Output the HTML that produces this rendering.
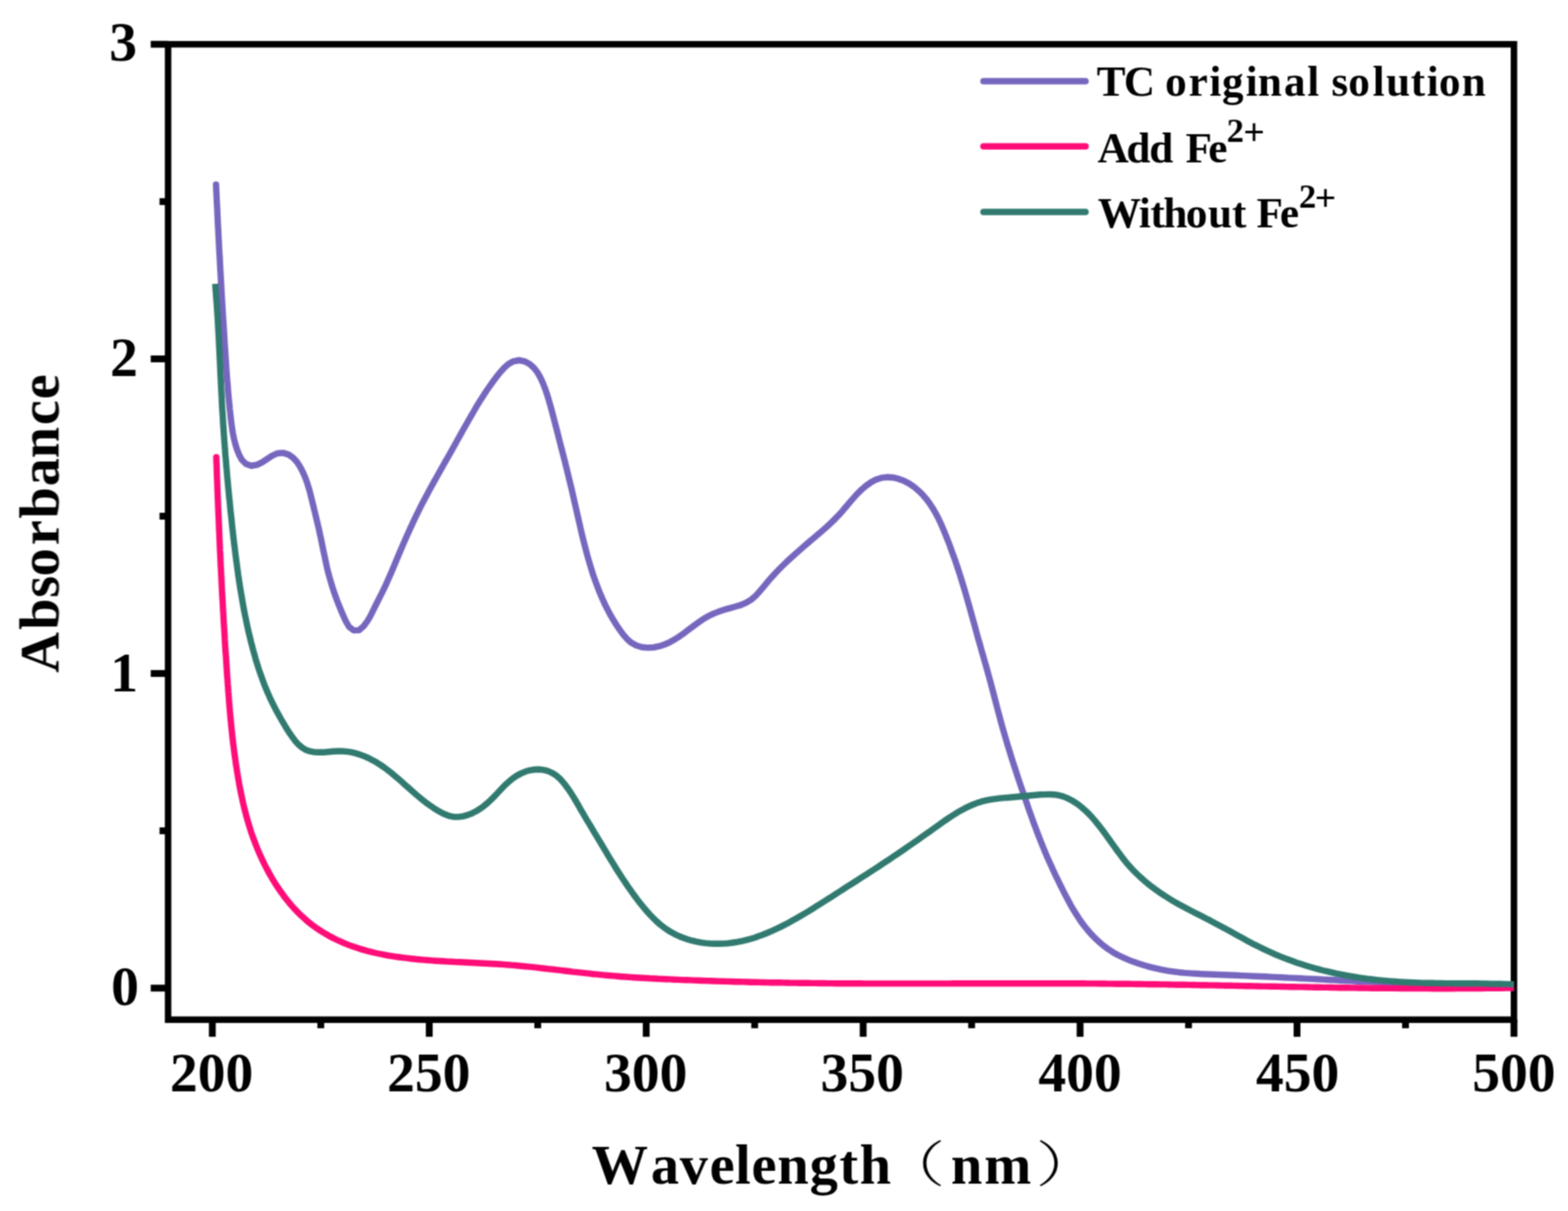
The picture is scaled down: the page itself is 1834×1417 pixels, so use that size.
<!DOCTYPE html>
<html lang="en">
<head>
<meta charset="utf-8">
<title>UV-Vis absorbance spectra</title>
<style>
html,body{margin:0;padding:0;background:#fff;}
body{width:1834px;height:1417px;overflow:hidden;}
svg{display:block;position:absolute;left:0;top:0;}
text{font-family:"Liberation Serif","Noto Serif CJK SC",serif;font-weight:bold;fill:#000;font-kerning:none;}
.tick{font-size:65px;}
.title{font-size:66px;}
.leg{font-size:50.5px;}
.sup{font-size:38.5px;}
.cjk{font-family:"Noto Serif CJK SC","Liberation Serif",serif;font-weight:200;font-size:58px;}
.axis{stroke:#000;stroke-width:7.6;fill:none;}
.curve{fill:none;stroke-width:7.4;stroke-linejoin:round;}
</style>
</head>
<body>
<svg xmlns="http://www.w3.org/2000/svg" width="1834" height="1417" viewBox="0 0 1834 1417">
<rect x="0" y="0" width="1834" height="1417" fill="#ffffff"/>
<defs><filter id="soft" filterUnits="userSpaceOnUse" x="0" y="0" width="1834" height="1417" color-interpolation-filters="sRGB"><feConvolveMatrix order="3" kernelMatrix="1 2 1 2 4 2 1 2 1" divisor="16" edgeMode="duplicate" preserveAlpha="false"/></filter></defs>
<g id="figure" filter="url(#soft)">
<rect class="axis" x="196.6" y="51.8" width="1574.20" height="1141.35"/>
<g class="axis">
<line x1="248.35" y1="1193.15" x2="248.35" y2="1213.15" stroke-width="8.0"/>
<line x1="375.22" y1="1193.15" x2="375.22" y2="1203.15" stroke-width="8.0"/>
<line x1="502.09" y1="1193.15" x2="502.09" y2="1213.15" stroke-width="8.0"/>
<line x1="628.96" y1="1193.15" x2="628.96" y2="1203.15" stroke-width="8.0"/>
<line x1="755.83" y1="1193.15" x2="755.83" y2="1213.15" stroke-width="8.0"/>
<line x1="882.70" y1="1193.15" x2="882.70" y2="1203.15" stroke-width="8.0"/>
<line x1="1009.58" y1="1193.15" x2="1009.58" y2="1213.15" stroke-width="8.0"/>
<line x1="1136.45" y1="1193.15" x2="1136.45" y2="1203.15" stroke-width="8.0"/>
<line x1="1263.32" y1="1193.15" x2="1263.32" y2="1213.15" stroke-width="8.0"/>
<line x1="1390.19" y1="1193.15" x2="1390.19" y2="1203.15" stroke-width="8.0"/>
<line x1="1517.06" y1="1193.15" x2="1517.06" y2="1213.15" stroke-width="8.0"/>
<line x1="1643.93" y1="1193.15" x2="1643.93" y2="1203.15" stroke-width="8.0"/>
<line x1="1770.80" y1="1193.15" x2="1770.80" y2="1213.15" stroke-width="8.0"/>
<line x1="196.6" y1="1156.20" x2="176.30" y2="1156.20" stroke-width="8.0"/>
<line x1="196.6" y1="972.13" x2="186.60" y2="972.13" stroke-width="8.0"/>
<line x1="196.6" y1="788.07" x2="176.30" y2="788.07" stroke-width="8.0"/>
<line x1="196.6" y1="604.00" x2="186.60" y2="604.00" stroke-width="8.0"/>
<line x1="196.6" y1="419.93" x2="176.30" y2="419.93" stroke-width="8.0"/>
<line x1="196.6" y1="235.87" x2="186.60" y2="235.87" stroke-width="8.0"/>
<line x1="196.6" y1="51.80" x2="176.30" y2="51.80" stroke-width="8.0"/>
</g>
<defs><clipPath id="plotclip"><rect x="196.6" y="51.8" width="1574.20" height="1141.35"/></clipPath></defs>
<g id="curves" clip-path="url(#plotclip)">
<path class="curve" stroke="#7766BE" stroke-linecap="round" d="M252.7,216.0 L253.0,222.8 L253.3,229.5 L253.6,236.3 L254.0,243.0 L254.3,249.8 L254.6,256.5 L254.9,263.3 L255.3,270.0 L255.6,276.8 L256.0,283.5 L256.3,290.3 L256.7,297.0 L257.1,303.8 L257.4,310.5 L257.8,317.3 L258.2,324.0 L258.6,330.8 L258.9,337.5 L259.3,344.3 L259.7,351.0 L260.1,357.8 L260.5,364.5 L260.9,371.3 L261.4,378.0 L261.8,384.8 L262.2,391.5 L262.6,398.3 L263.0,405.0 L263.5,411.8 L263.9,418.5 L264.4,425.2 L264.8,432.0 L265.3,438.7 L265.8,445.5 L266.4,452.2 L266.9,458.9 L267.5,465.7 L268.2,472.4 L268.8,479.1 L269.6,485.9 L270.3,492.6 L271.2,499.3 L272.2,505.9 L273.5,512.6 L275.1,519.1 L277.1,525.6 L279.6,532.0 L282.8,538.0 L287.5,542.7 L293.9,545.0 L300.6,543.9 L306.8,540.9 L312.4,537.2 L318.1,533.4 L324.3,530.5 L331.0,529.9 L337.5,531.9 L343.0,535.7 L347.5,540.8 L351.2,546.5 L354.3,552.6 L357.0,558.8 L359.3,565.1 L361.3,571.6 L363.1,578.1 L364.7,584.6 L366.3,591.2 L367.9,597.8 L369.5,604.3 L371.0,610.9 L372.6,617.5 L374.0,624.1 L375.5,630.7 L376.8,637.3 L378.2,643.9 L379.6,650.6 L381.0,657.2 L382.4,663.8 L384.0,670.3 L385.8,676.9 L387.7,683.4 L389.7,689.8 L391.9,696.2 L394.2,702.6 L396.7,708.9 L399.2,715.0 L401.9,721.2 L404.8,727.5 L408.3,733.5 L413.7,737.6 L419.9,737.4 L425.1,733.0 L429.3,727.4 L432.8,721.6 L435.8,715.6 L438.8,709.5 L441.8,703.5 L444.9,697.4 L447.9,691.4 L450.8,685.3 L453.6,679.1 L456.3,672.9 L459.0,666.7 L461.6,660.5 L464.2,654.3 L466.8,648.0 L469.5,641.8 L472.1,635.6 L474.8,629.4 L477.6,623.2 L480.4,617.1 L483.2,610.9 L486.1,604.8 L489.1,598.8 L492.1,592.7 L495.2,586.7 L498.4,580.7 L501.6,574.8 L504.8,568.8 L508.1,562.9 L511.4,557.0 L514.7,551.1 L518.0,545.2 L521.3,539.4 L524.7,533.5 L528.0,527.6 L531.3,521.7 L534.6,515.8 L537.9,509.9 L541.1,504.0 L544.5,498.1 L547.8,492.2 L551.2,486.3 L554.6,480.5 L558.0,474.7 L561.5,468.9 L565.2,463.2 L568.9,457.5 L572.7,452.0 L576.6,446.5 L580.7,441.1 L584.9,435.8 L589.4,430.7 L594.3,426.2 L600.4,422.8 L607.1,421.5 L613.6,422.8 L619.5,426.0 L624.6,430.6 L628.8,436.0 L632.1,441.9 L634.9,448.0 L637.4,454.3 L639.6,460.7 L641.6,467.2 L643.5,473.7 L645.3,480.2 L647.0,486.7 L648.7,493.3 L650.4,499.8 L652.1,506.3 L653.7,512.9 L655.4,519.4 L657.1,526.0 L658.8,532.5 L660.5,539.1 L662.1,545.6 L663.7,552.2 L665.3,558.8 L666.9,565.3 L668.5,571.9 L670.0,578.5 L671.5,585.1 L673.0,591.7 L674.5,598.3 L676.0,604.9 L677.5,611.5 L679.0,618.0 L680.5,624.6 L682.1,631.2 L683.8,637.7 L685.5,644.3 L687.2,650.8 L689.1,657.3 L691.0,663.8 L693.0,670.2 L695.2,676.7 L697.5,683.0 L699.9,689.4 L702.4,695.6 L705.1,701.8 L707.9,707.9 L711.0,714.0 L714.2,719.9 L717.6,725.8 L721.2,731.5 L725.0,737.1 L729.0,742.6 L733.4,747.7 L738.4,752.1 L744.2,755.3 L750.7,757.2 L757.6,757.9 L764.6,757.5 L771.2,756.2 L777.6,754.0 L783.7,751.3 L789.5,748.0 L795.2,744.3 L800.7,740.4 L806.1,736.3 L811.5,732.2 L817.0,728.2 L822.6,724.4 L828.4,721.0 L834.4,718.1 L840.8,715.6 L847.2,713.4 L853.7,711.6 L860.2,709.8 L866.7,707.9 L872.9,705.2 L878.7,701.6 L883.8,697.2 L888.4,692.2 L892.7,687.1 L897.0,681.9 L901.4,676.7 L905.9,671.7 L910.6,666.8 L915.4,662.0 L920.2,657.3 L925.2,652.7 L930.2,648.2 L935.3,643.7 L940.4,639.3 L945.5,634.9 L950.7,630.5 L955.8,626.2 L961.0,621.7 L966.1,617.3 L971.1,612.7 L975.9,608.0 L980.6,603.2 L985.1,598.2 L989.5,593.0 L993.8,587.9 L998.2,582.8 L1002.7,577.8 L1007.6,573.0 L1012.7,568.6 L1018.4,564.6 L1024.4,561.3 L1030.7,559.2 L1037.3,558.3 L1044.0,558.7 L1050.6,560.2 L1057.0,562.5 L1063.0,565.6 L1068.6,569.3 L1073.8,573.7 L1078.7,578.4 L1083.2,583.6 L1087.3,589.0 L1091.0,594.7 L1094.4,600.5 L1097.5,606.4 L1100.4,612.5 L1103.1,618.7 L1105.6,624.9 L1108.1,631.2 L1110.6,637.5 L1112.9,643.9 L1115.2,650.2 L1117.5,656.6 L1119.6,663.0 L1121.8,669.5 L1123.8,675.9 L1125.8,682.4 L1127.8,688.8 L1129.7,695.3 L1131.5,701.8 L1133.4,708.3 L1135.2,714.8 L1137.0,721.3 L1138.8,727.8 L1140.6,734.3 L1142.4,740.9 L1144.2,747.4 L1146.1,753.9 L1147.9,760.4 L1149.8,766.9 L1151.6,773.4 L1153.5,779.9 L1155.3,786.4 L1157.1,792.9 L1158.9,799.4 L1160.6,806.0 L1162.3,812.5 L1164.0,819.0 L1165.7,825.6 L1167.4,832.1 L1169.2,838.7 L1170.9,845.2 L1172.7,851.7 L1174.6,858.2 L1176.5,864.7 L1178.4,871.2 L1180.4,877.6 L1182.4,884.1 L1184.4,890.5 L1186.5,897.0 L1188.6,903.4 L1190.7,909.8 L1192.8,916.2 L1195.0,922.6 L1197.2,929.0 L1199.4,935.4 L1201.6,941.8 L1203.8,948.2 L1206.1,954.6 L1208.3,960.9 L1210.7,967.3 L1213.1,973.6 L1215.5,979.9 L1218.0,986.2 L1220.5,992.4 L1223.1,998.7 L1225.8,1004.9 L1228.6,1011.1 L1231.4,1017.2 L1234.2,1023.3 L1237.2,1029.4 L1240.1,1035.5 L1243.2,1041.6 L1246.2,1047.6 L1249.4,1053.5 L1252.6,1059.5 L1256.0,1065.3 L1259.6,1071.0 L1263.3,1076.7 L1267.3,1082.2 L1271.5,1087.5 L1275.9,1092.6 L1280.6,1097.5 L1285.5,1102.2 L1290.7,1106.5 L1296.1,1110.5 L1301.7,1114.2 L1307.6,1117.5 L1313.7,1120.4 L1319.9,1123.1 L1326.2,1125.6 L1332.6,1127.8 L1339.1,1129.8 L1345.6,1131.6 L1352.2,1133.2 L1358.8,1134.6 L1365.5,1135.8 L1372.1,1136.8 L1378.8,1137.7 L1385.5,1138.4 L1392.3,1138.9 L1399.0,1139.3 L1405.8,1139.7 L1412.5,1140.0 L1419.3,1140.2 L1426.0,1140.5 L1432.8,1140.7 L1439.6,1141.0 L1446.3,1141.3 L1453.1,1141.6 L1459.8,1141.9 L1466.6,1142.2 L1473.3,1142.5 L1480.1,1142.8 L1486.8,1143.1 L1493.6,1143.4 L1500.3,1143.8 L1507.1,1144.1 L1513.8,1144.4 L1520.6,1144.8 L1527.3,1145.1 L1534.1,1145.4 L1540.8,1145.8 L1547.6,1146.1 L1554.3,1146.5 L1561.1,1146.8 L1567.8,1147.2 L1574.6,1147.5 L1581.3,1147.8 L1588.1,1148.2 L1594.8,1148.5 L1601.6,1148.8 L1608.3,1149.1 L1615.1,1149.4 L1621.9,1149.7 L1628.6,1150.0 L1635.4,1150.3 L1642.1,1150.6 L1648.9,1150.8 L1655.6,1151.1 L1662.4,1151.3 L1669.1,1151.5 L1675.9,1151.7 L1682.7,1151.9 L1689.4,1152.0 L1696.2,1152.2 L1702.9,1152.3 L1709.7,1152.3 L1716.4,1152.4 L1723.2,1152.4 L1730.0,1152.4 L1736.7,1152.4 L1743.5,1152.3 L1750.2,1152.2 L1757.0,1152.1 L1763.8,1151.9 L1770.5,1151.7"/>
<path class="curve" stroke="#FF0C78" stroke-linecap="round" d="M253.0,534.9 L253.1,539.6 L253.3,544.4 L253.5,549.1 L253.6,553.9 L253.8,558.6 L254.0,563.4 L254.2,568.1 L254.3,572.8 L254.5,577.6 L254.7,582.3 L254.9,587.1 L255.1,591.8 L255.3,596.6 L255.5,601.3 L255.7,606.0 L255.9,610.8 L256.1,615.5 L256.3,620.3 L256.5,625.0 L256.7,629.7 L256.9,634.5 L257.1,639.2 L257.3,644.0 L257.6,648.7 L257.8,653.4 L258.0,658.2 L258.2,662.9 L258.5,667.7 L258.7,672.4 L259.0,677.1 L259.2,681.9 L259.4,686.6 L259.7,691.3 L259.9,696.1 L260.2,700.8 L260.5,705.6 L260.7,710.3 L261.0,715.0 L261.3,719.8 L261.5,724.5 L261.8,729.2 L262.1,734.0 L262.4,738.7 L262.7,743.4 L262.9,748.2 L263.2,752.9 L263.5,757.7 L263.8,762.4 L264.2,767.1 L264.5,771.9 L264.8,776.6 L265.1,781.3 L265.4,786.1 L265.7,790.8 L266.1,795.5 L266.4,800.3 L266.8,805.0 L267.1,809.8 L267.5,814.5 L267.8,819.2 L268.2,824.0 L268.6,828.7 L269.0,833.4 L269.4,838.1 L269.9,842.9 L270.3,847.6 L270.8,852.3 L271.3,857.0 L271.8,861.8 L272.3,866.5 L272.9,871.2 L273.5,875.9 L274.1,880.6 L274.7,885.3 L275.4,890.0 L276.0,894.7 L276.8,899.4 L277.5,904.1 L278.3,908.7 L279.1,913.4 L279.9,918.1 L280.8,922.7 L281.7,927.4 L282.7,932.0 L283.7,936.7 L284.7,941.3 L285.8,945.9 L287.0,950.5 L288.2,955.1 L289.5,959.6 L290.8,964.2 L292.2,968.7 L293.6,973.2 L295.2,977.7 L296.8,982.2 L298.5,986.6 L300.2,991.0 L302.0,995.4 L303.9,999.8 L305.9,1004.1 L307.9,1008.4 L310.0,1012.6 L312.2,1016.9 L314.5,1021.1 L316.8,1025.2 L319.2,1029.3 L321.7,1033.4 L324.3,1037.4 L327.0,1041.3 L329.7,1045.2 L332.5,1049.1 L335.4,1052.8 L338.4,1056.5 L341.5,1060.1 L344.7,1063.7 L348.0,1067.1 L351.3,1070.4 L354.8,1073.6 L358.3,1076.8 L361.9,1079.8 L365.7,1082.7 L369.5,1085.4 L373.4,1088.1 L377.3,1090.6 L381.4,1093.1 L385.5,1095.4 L389.7,1097.6 L394.0,1099.7 L398.3,1101.7 L402.6,1103.6 L407.0,1105.4 L411.5,1107.1 L415.9,1108.6 L420.5,1110.1 L425.0,1111.4 L429.6,1112.7 L434.2,1113.9 L438.8,1115.0 L443.5,1116.0 L448.1,1116.9 L452.8,1117.8 L457.5,1118.6 L462.2,1119.3 L466.9,1120.0 L471.6,1120.6 L476.4,1121.2 L481.1,1121.7 L485.8,1122.2 L490.5,1122.7 L495.2,1123.1 L500.0,1123.5 L504.7,1123.9 L509.4,1124.2 L514.2,1124.5 L518.9,1124.8 L523.6,1125.1 L528.4,1125.3 L533.1,1125.6 L537.8,1125.8 L542.6,1126.0 L547.3,1126.3 L552.0,1126.5 L556.8,1126.7 L561.5,1127.0 L566.2,1127.2 L571.0,1127.5 L575.7,1127.7 L580.5,1128.0 L585.2,1128.3 L589.9,1128.6 L594.7,1129.0 L599.4,1129.4 L604.1,1129.8 L608.8,1130.2 L613.6,1130.7 L618.3,1131.1 L623.0,1131.6 L627.7,1132.2 L632.4,1132.7 L637.1,1133.2 L641.9,1133.8 L646.6,1134.3 L651.3,1134.9 L656.0,1135.4 L660.7,1136.0 L665.4,1136.5 L670.1,1137.1 L674.9,1137.6 L679.6,1138.1 L684.3,1138.6 L689.0,1139.2 L693.7,1139.7 L698.5,1140.1 L703.2,1140.6 L707.9,1141.1 L712.6,1141.5 L717.3,1141.9 L722.1,1142.3 L726.8,1142.7 L731.5,1143.0 L736.3,1143.4 L741.0,1143.7 L745.7,1144.0 L750.5,1144.3 L755.2,1144.5 L759.9,1144.8 L764.7,1145.0 L769.4,1145.3 L774.2,1145.5 L778.9,1145.7 L783.6,1145.9 L788.4,1146.2 L793.1,1146.4 L797.9,1146.6 L802.6,1146.8 L807.4,1146.9 L812.1,1147.1 L816.8,1147.3 L821.6,1147.5 L826.3,1147.6 L831.1,1147.8 L835.8,1148.0 L840.5,1148.1 L845.3,1148.3 L850.0,1148.4 L854.8,1148.5 L859.5,1148.7 L864.3,1148.8 L869.0,1148.9 L873.8,1149.0 L878.5,1149.2 L883.2,1149.3 L888.0,1149.4 L892.7,1149.5 L897.5,1149.6 L902.2,1149.7 L907.0,1149.8 L911.7,1149.8 L916.4,1149.9 L921.2,1150.0 L925.9,1150.1 L930.7,1150.1 L935.4,1150.2 L940.2,1150.3 L944.9,1150.3 L949.7,1150.4 L954.4,1150.4 L959.1,1150.5 L963.9,1150.5 L968.6,1150.6 L973.4,1150.6 L978.1,1150.7 L982.9,1150.7 L987.6,1150.7 L992.4,1150.8 L997.1,1150.8 L1001.9,1150.8 L1006.6,1150.8 L1011.3,1150.9 L1016.1,1150.9 L1020.8,1150.9 L1025.6,1150.9 L1030.3,1150.9 L1035.1,1150.9 L1039.8,1150.9 L1044.6,1150.9 L1049.3,1150.9 L1054.1,1150.9 L1058.8,1150.9 L1063.5,1150.9 L1068.3,1150.9 L1073.0,1150.9 L1077.8,1150.9 L1082.5,1150.9 L1087.3,1150.9 L1092.0,1150.9 L1096.8,1150.9 L1101.5,1150.9 L1106.2,1150.9 L1111.0,1150.9 L1115.7,1150.8 L1120.5,1150.8 L1125.2,1150.8 L1130.0,1150.8 L1134.7,1150.8 L1139.5,1150.8 L1144.2,1150.8 L1149.0,1150.8 L1153.7,1150.8 L1158.4,1150.7 L1163.2,1150.7 L1167.9,1150.7 L1172.7,1150.7 L1177.4,1150.7 L1182.2,1150.7 L1186.9,1150.7 L1191.7,1150.7 L1196.4,1150.7 L1201.2,1150.7 L1205.9,1150.7 L1210.6,1150.7 L1215.4,1150.7 L1220.1,1150.7 L1224.9,1150.7 L1229.6,1150.7 L1234.4,1150.7 L1239.1,1150.7 L1243.9,1150.7 L1248.6,1150.8 L1253.3,1150.8 L1258.1,1150.8 L1262.8,1150.8 L1267.6,1150.8 L1272.3,1150.9 L1277.1,1150.9 L1281.8,1150.9 L1286.6,1151.0 L1291.3,1151.0 L1296.1,1151.1 L1300.8,1151.1 L1305.5,1151.2 L1310.3,1151.2 L1315.0,1151.3 L1319.8,1151.3 L1324.5,1151.4 L1329.3,1151.5 L1334.0,1151.5 L1338.8,1151.6 L1343.5,1151.7 L1348.2,1151.7 L1353.0,1151.8 L1357.7,1151.9 L1362.5,1151.9 L1367.2,1152.0 L1372.0,1152.1 L1376.7,1152.2 L1381.5,1152.3 L1386.2,1152.3 L1390.9,1152.4 L1395.7,1152.5 L1400.4,1152.6 L1405.2,1152.7 L1409.9,1152.8 L1414.7,1152.9 L1419.4,1152.9 L1424.2,1153.0 L1428.9,1153.1 L1433.6,1153.2 L1438.4,1153.3 L1443.1,1153.4 L1447.9,1153.5 L1452.6,1153.6 L1457.4,1153.7 L1462.1,1153.8 L1466.9,1153.9 L1471.6,1154.0 L1476.3,1154.1 L1481.1,1154.1 L1485.8,1154.2 L1490.6,1154.3 L1495.3,1154.4 L1500.1,1154.5 L1504.8,1154.6 L1509.6,1154.7 L1514.3,1154.8 L1519.0,1154.9 L1523.8,1154.9 L1528.5,1155.0 L1533.3,1155.1 L1538.0,1155.2 L1542.8,1155.3 L1547.5,1155.4 L1552.3,1155.4 L1557.0,1155.5 L1561.7,1155.6 L1566.5,1155.7 L1571.2,1155.7 L1576.0,1155.8 L1580.7,1155.9 L1585.5,1155.9 L1590.2,1156.0 L1595.0,1156.0 L1599.7,1156.1 L1604.4,1156.2 L1609.2,1156.2 L1613.9,1156.3 L1618.7,1156.3 L1623.4,1156.4 L1628.2,1156.4 L1632.9,1156.4 L1637.7,1156.5 L1642.4,1156.5 L1647.1,1156.5 L1651.9,1156.6 L1656.6,1156.6 L1661.4,1156.6 L1666.1,1156.6 L1670.9,1156.6 L1675.6,1156.7 L1680.4,1156.7 L1685.1,1156.7 L1689.8,1156.7 L1694.6,1156.7 L1699.3,1156.7 L1704.1,1156.6 L1708.8,1156.6 L1713.6,1156.6 L1718.3,1156.6 L1723.1,1156.5 L1727.8,1156.5 L1732.6,1156.5 L1737.3,1156.4 L1742.0,1156.4 L1746.8,1156.3 L1751.5,1156.3 L1756.3,1156.2 L1761.0,1156.1 L1765.8,1156.1 L1770.5,1156.0"/>
<path class="curve" stroke="#317A70" stroke-linecap="butt" d="M251.7,332.1 L252.1,337.4 L252.5,342.7 L252.9,348.0 L253.3,353.3 L253.7,358.7 L254.0,364.0 L254.4,369.3 L254.7,374.6 L255.0,380.0 L255.3,385.3 L255.6,390.6 L255.9,396.0 L256.1,401.3 L256.4,406.6 L256.7,412.0 L256.9,417.3 L257.2,422.6 L257.4,428.0 L257.7,433.3 L257.9,438.6 L258.2,444.0 L258.4,449.3 L258.7,454.6 L259.0,460.0 L259.3,465.3 L259.5,470.6 L259.8,476.0 L260.1,481.3 L260.5,486.6 L260.8,492.0 L261.1,497.3 L261.5,502.6 L261.8,507.9 L262.2,513.3 L262.6,518.6 L263.0,523.9 L263.4,529.2 L263.8,534.5 L264.3,539.9 L264.7,545.2 L265.2,550.5 L265.6,555.8 L266.1,561.1 L266.6,566.4 L267.1,571.8 L267.6,577.1 L268.1,582.4 L268.7,587.7 L269.2,593.0 L269.7,598.3 L270.3,603.6 L270.9,608.9 L271.4,614.3 L272.0,619.6 L272.6,624.9 L273.2,630.2 L273.8,635.5 L274.5,640.8 L275.1,646.1 L275.8,651.4 L276.5,656.7 L277.2,662.0 L277.9,667.3 L278.6,672.6 L279.4,677.9 L280.2,683.1 L281.0,688.4 L281.9,693.7 L282.8,698.9 L283.7,704.2 L284.6,709.4 L285.6,714.7 L286.6,719.9 L287.7,725.1 L288.8,730.4 L289.9,735.6 L291.1,740.8 L292.4,746.0 L293.6,751.2 L295.0,756.3 L296.3,761.5 L297.8,766.6 L299.2,771.8 L300.8,776.9 L302.4,782.0 L304.1,787.1 L305.9,792.1 L307.7,797.1 L309.6,802.1 L311.6,807.0 L313.7,811.9 L315.9,816.8 L318.2,821.6 L320.6,826.4 L323.0,831.1 L325.6,835.8 L328.2,840.5 L330.9,845.1 L333.6,849.7 L336.4,854.2 L339.3,858.7 L342.4,863.1 L345.7,867.4 L349.4,871.4 L353.5,874.9 L357.9,877.5 L362.8,879.2 L368.0,880.1 L373.3,880.3 L378.8,880.2 L384.2,879.8 L389.5,879.3 L394.8,879.0 L400.1,879.0 L405.4,879.4 L410.7,880.2 L415.9,881.4 L421.0,883.0 L426.1,884.9 L431.0,887.0 L435.7,889.5 L440.4,892.1 L444.8,894.9 L449.2,897.9 L453.5,901.1 L457.7,904.4 L461.8,907.8 L465.9,911.3 L469.9,914.8 L473.9,918.4 L477.9,921.9 L481.9,925.5 L485.9,929.0 L490.0,932.5 L494.1,935.9 L498.3,939.2 L502.6,942.3 L507.0,945.3 L511.5,948.2 L516.2,950.8 L521.0,953.1 L526.0,954.9 L531.2,955.9 L536.5,955.9 L541.8,955.1 L547.0,953.6 L552.0,951.7 L556.7,949.3 L561.3,946.5 L565.6,943.4 L569.8,940.0 L573.7,936.4 L577.5,932.6 L581.2,928.7 L584.9,924.8 L588.5,920.9 L592.3,917.2 L596.3,913.7 L600.4,910.4 L604.9,907.4 L609.7,904.9 L614.6,902.8 L619.8,901.3 L625.0,900.5 L630.3,900.3 L635.6,900.9 L640.8,902.2 L645.7,904.3 L650.2,907.2 L654.3,910.6 L657.9,914.5 L661.3,918.7 L664.5,923.0 L667.5,927.4 L670.3,931.9 L673.1,936.5 L675.8,941.1 L678.4,945.8 L681.1,950.4 L683.8,955.0 L686.5,959.6 L689.3,964.1 L692.0,968.7 L694.7,973.3 L697.5,977.9 L700.2,982.4 L703.0,987.0 L705.7,991.6 L708.5,996.2 L711.2,1000.8 L714.0,1005.4 L716.8,1009.9 L719.6,1014.5 L722.4,1019.0 L725.3,1023.5 L728.2,1028.0 L731.2,1032.4 L734.1,1036.8 L737.2,1041.2 L740.2,1045.5 L743.4,1049.8 L746.6,1054.1 L749.9,1058.2 L753.3,1062.4 L756.8,1066.5 L760.4,1070.5 L764.2,1074.4 L768.0,1078.1 L772.0,1081.6 L776.2,1084.9 L780.6,1088.0 L785.1,1090.8 L789.7,1093.3 L794.5,1095.5 L799.5,1097.5 L804.5,1099.2 L809.6,1100.7 L814.8,1101.9 L820.1,1102.9 L825.4,1103.6 L830.7,1104.1 L836.1,1104.3 L841.5,1104.3 L846.8,1104.1 L852.2,1103.7 L857.5,1103.0 L862.7,1102.2 L868.0,1101.1 L873.1,1099.9 L878.3,1098.5 L883.3,1096.9 L888.4,1095.1 L893.4,1093.2 L898.3,1091.2 L903.2,1089.1 L908.1,1086.9 L912.9,1084.6 L917.7,1082.1 L922.4,1079.7 L927.1,1077.1 L931.7,1074.5 L936.4,1071.8 L940.9,1069.1 L945.5,1066.4 L950.0,1063.6 L954.6,1060.7 L959.1,1057.9 L963.6,1055.0 L968.1,1052.1 L972.6,1049.3 L977.1,1046.4 L981.6,1043.5 L986.1,1040.6 L990.6,1037.7 L995.1,1034.8 L999.6,1032.0 L1004.1,1029.1 L1008.6,1026.2 L1013.1,1023.3 L1017.6,1020.4 L1022.1,1017.5 L1026.6,1014.6 L1031.0,1011.7 L1035.5,1008.7 L1039.9,1005.8 L1044.3,1002.8 L1048.7,999.9 L1053.1,996.9 L1057.5,993.9 L1061.9,990.8 L1066.3,987.8 L1070.6,984.8 L1075.0,981.7 L1079.4,978.6 L1083.7,975.5 L1088.1,972.4 L1092.5,969.3 L1096.8,966.2 L1101.2,963.0 L1105.7,959.9 L1110.1,956.9 L1114.6,954.0 L1119.1,951.1 L1123.7,948.4 L1128.4,945.9 L1133.1,943.6 L1137.9,941.5 L1142.9,939.6 L1147.9,937.9 L1153.0,936.6 L1158.2,935.6 L1163.5,934.8 L1168.9,934.1 L1174.3,933.6 L1179.7,933.2 L1185.1,932.7 L1190.4,932.2 L1195.7,931.7 L1200.9,931.2 L1206.2,930.7 L1211.5,930.2 L1216.8,929.8 L1222.1,929.6 L1227.5,929.5 L1232.8,929.7 L1238.1,930.5 L1243.3,931.9 L1248.3,933.9 L1253.0,936.3 L1257.6,939.0 L1262.0,942.1 L1266.1,945.4 L1270.1,949.0 L1273.9,952.7 L1277.5,956.6 L1281.0,960.6 L1284.4,964.8 L1287.7,969.0 L1290.9,973.3 L1294.1,977.6 L1297.2,982.0 L1300.3,986.3 L1303.4,990.7 L1306.5,995.0 L1309.7,999.3 L1312.9,1003.6 L1316.2,1007.8 L1319.6,1011.8 L1323.1,1015.8 L1326.8,1019.7 L1330.6,1023.4 L1334.5,1027.0 L1338.5,1030.6 L1342.6,1034.0 L1346.8,1037.3 L1351.1,1040.5 L1355.4,1043.6 L1359.9,1046.6 L1364.4,1049.5 L1368.9,1052.4 L1373.5,1055.1 L1378.1,1057.7 L1382.8,1060.3 L1387.5,1062.8 L1392.2,1065.3 L1397.0,1067.7 L1401.7,1070.1 L1406.5,1072.5 L1411.2,1075.0 L1416.0,1077.4 L1420.7,1079.9 L1425.4,1082.4 L1430.1,1085.0 L1434.8,1087.5 L1439.5,1090.1 L1444.2,1092.7 L1448.8,1095.3 L1453.5,1097.8 L1458.2,1100.4 L1462.9,1102.9 L1467.6,1105.4 L1472.4,1107.8 L1477.2,1110.1 L1482.0,1112.4 L1486.9,1114.6 L1491.8,1116.8 L1496.7,1118.9 L1501.7,1120.9 L1506.7,1122.8 L1511.7,1124.6 L1516.7,1126.4 L1521.8,1128.1 L1526.9,1129.7 L1532.0,1131.2 L1537.1,1132.7 L1542.2,1134.1 L1547.4,1135.5 L1552.6,1136.7 L1557.8,1137.9 L1563.0,1139.1 L1568.2,1140.1 L1573.4,1141.1 L1578.7,1142.1 L1584.0,1143.0 L1589.2,1143.8 L1594.5,1144.6 L1599.8,1145.3 L1605.1,1146.0 L1610.4,1146.6 L1615.7,1147.1 L1621.1,1147.6 L1626.4,1148.1 L1631.7,1148.5 L1637.0,1148.9 L1642.4,1149.2 L1647.7,1149.5 L1653.0,1149.7 L1658.4,1149.9 L1663.7,1150.1 L1669.0,1150.2 L1674.4,1150.3 L1679.7,1150.4 L1685.0,1150.5 L1690.4,1150.6 L1695.7,1150.6 L1701.1,1150.7 L1706.4,1150.7 L1711.7,1150.7 L1717.1,1150.8 L1722.4,1150.8 L1727.8,1150.8 L1733.1,1150.9 L1738.4,1151.0 L1743.8,1151.1 L1749.1,1151.2 L1754.4,1151.3 L1759.8,1151.4 L1765.1,1151.6 L1770.5,1151.8"/>
</g>
<g class="tick">
<text x="247.45" y="1277.2" text-anchor="middle">200</text>
<text x="501.40" y="1277.2" text-anchor="middle">250</text>
<text x="755.30" y="1277.2" text-anchor="middle">300</text>
<text x="1008.50" y="1277.2" text-anchor="middle">350</text>
<text x="1263.30" y="1277.2" text-anchor="middle">400</text>
<text x="1517.75" y="1277.2" text-anchor="middle">450</text>
<text x="1770.65" y="1277.2" text-anchor="middle">500</text>
<text x="129.9" y="1176.45">0</text>
<text x="129.0" y="808.6">1</text>
<text x="128.8" y="439.5">2</text>
<text x="127.8" y="71.35">3</text>
</g>
<text class="title" x="691.97 761.37 794.90 829.94 859.71 879.04 909.33 947.06 981.84 1005.46" y="1385.4">Wavelength<tspan class="cjk" x="1030.39" y="1382.8" textLength="75.40" lengthAdjust="spacingAndGlyphs">（</tspan><tspan x="1112.23 1151.23" y="1385.4">nm</tspan><tspan class="cjk" x="1211.22" y="1382.8" textLength="75.40" lengthAdjust="spacingAndGlyphs">）</tspan></text>
<text class="title" transform="translate(68.5,0) rotate(-90)" x="-787.24 -736.94 -699.60 -674.51 -638.07 -606.84 -569.13 -536.37 -497.46 -467.16" y="0">Absorbance</text>
<g id="legend">
<line x1="1150.3" y1="94.9" x2="1269.7" y2="94.9" stroke="#7766BE" stroke-width="7.5" stroke-linecap="round"/>
<line x1="1150.3" y1="171.3" x2="1269.7" y2="171.3" stroke="#FF0C78" stroke-width="7.5" stroke-linecap="round"/>
<line x1="1150.3" y1="248.0" x2="1269.7" y2="248.0" stroke="#317A70" stroke-width="7.5" stroke-linecap="round"/>
<text class="leg" x="1282.71 1314.43 1350.90 1362.68 1390.14 1414.59 1429.37 1457.09 1471.24 1501.67 1528.91 1542.94 1557.17 1576.98 1605.41 1621.34 1650.09 1668.79 1682.98 1709.74" y="112.4">TC original solution</text>
<text class="leg" x="1283.71 1317.45 1344.25 1372.34 1386.64 1413.27" y="189.5">Add Fe<tspan style="font-size:40.5px" x="1434.80" y="166.4">2</tspan><tspan style="font-size:44px" x="1454.24" y="169.01">+</tspan></text>
<text class="leg" x="1284.08 1332.09 1345.49 1360.74 1386.88 1412.94 1440.99 1457.80 1469.69 1497.02" y="265.8">Without Fe<tspan style="font-size:40.5px" x="1519.20" y="243.0">2</tspan><tspan style="font-size:44px" x="1537.84" y="245.61">+</tspan></text>
</g>
</g>
</svg>
</body>
</html>
